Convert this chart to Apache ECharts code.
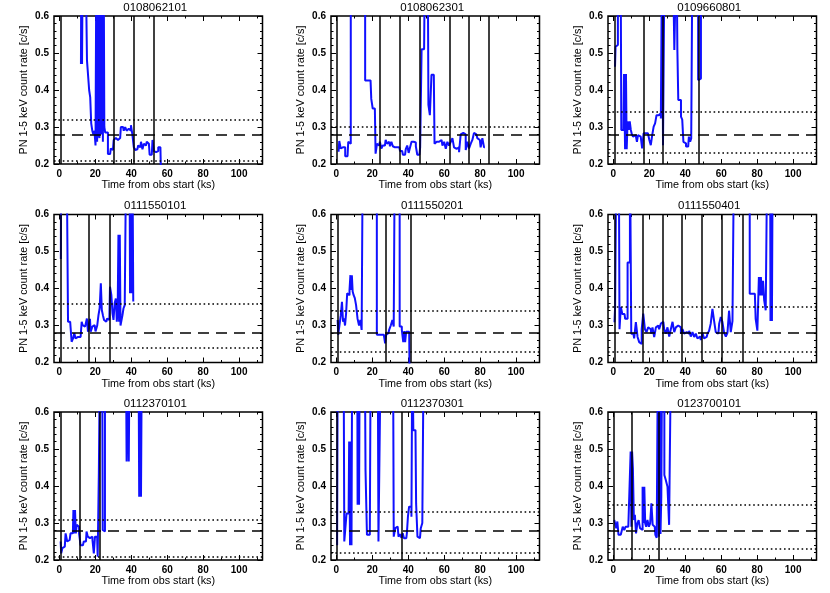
<!DOCTYPE html>
<html>
<head>
<meta charset="utf-8">
<script src="https://cdn.jsdelivr.net/npm/echarts@6/dist/echarts.min.js"></script>
<style>
html, body { margin: 0; background: #fff; }
#chart { width: 830px; height: 593px; }
</style>
</head>
<body>
<div id="chart"></div>
<script>
// observation ids, one panel each
const obsIds = ['0108062101', '0108062301', '0109660801',
  '0111550101', '0111550201', '0111550401',
  '0112370101', '0112370301', '0123700101'];

// light curves [time ks, rate c/s]; 0.8 = off the top of the plot
const lc1 = [[12.0,0.47],[12.4,0.8],[12.8,0.47],[13.2,0.8],[14.5,0.8],[16.2,0.48],[16.9,0.40],[17.4,0.38],[18.0,0.31],[18.6,0.29],
  [19.2,0.28],[19.8,0.29],[20.4,0.25],[20.8,0.8],[21.2,0.26],[21.6,0.8],[22.0,0.28],[22.6,0.27],[23.2,0.8],[23.6,0.28],
  [24.0,0.8],[24.4,0.26],[24.8,0.8],[25.2,0.30],[25.8,0.285],[26.6,0.285],[27.4,0.227],[28.2,0.227],[29.0,0.242],[29.8,0.238],
  [30.6,0.265],[31.4,0.27],[32.2,0.265],[33.0,0.268],[33.8,0.27],[34.6,0.30],[35.4,0.30],[36.2,0.29],[37.0,0.30],[37.8,0.29],
  [38.6,0.295],[39.4,0.29],[40.2,0.305],[41.0,0.28],[41.8,0.245],[42.6,0.238],[43.4,0.24],[44.2,0.25],[45.0,0.245],[45.8,0.26],
  [46.6,0.24],[47.4,0.255],[48.2,0.25],[49.0,0.26],[49.8,0.255],[50.6,0.225],[51.4,0.225],[52.2,0.265],[53.0,0.235],[53.8,0.232],
  [54.6,0.235],[55.4,0.245],[56.2,0.245],[57.0,0.15]];
const lc2 = [[1.2,0.233],[2.0,0.262],[2.8,0.242],[3.6,0.245],[4.4,0.245],[5.4,0.221],[6.2,0.221],[7.0,0.26],[7.6,0.255],[8.4,0.8],
  [13.0,0.8],[19.0,0.426],[19.8,0.376],[20.6,0.35],[21.4,0.35],[22.2,0.228],[23.0,0.255],[23.8,0.25],[24.6,0.26],[25.4,0.242],
  [26.2,0.25],[27.0,0.25],[27.8,0.265],[28.6,0.255],[29.4,0.26],[30.2,0.248],[31.0,0.26],[31.8,0.248],[32.6,0.245],[33.4,0.245],
  [34.2,0.245],[35.0,0.245],[35.8,0.235],[36.6,0.235],[37.4,0.225],[38.2,0.225],[39.0,0.24],[39.8,0.25],[40.6,0.23],[41.4,0.245],
  [42.2,0.26],[43.0,0.26],[43.8,0.258],[44.6,0.248],[45.4,0.225],[46.2,0.225],[47.0,0.245],[47.8,0.51],[48.8,0.51],[49.8,0.8],
  [50.8,0.8],[51.6,0.36],[52.4,0.332],[53.4,0.441],[54.2,0.441],[55.0,0.255],[55.8,0.26],[56.7,0.26],[57.6,0.26],[58.5,0.265],
  [59.5,0.25],[60.4,0.26],[61.3,0.241],[62.2,0.26],[63.2,0.25],[64.1,0.26],[65.0,0.27],[65.9,0.245],[66.9,0.241],[67.8,0.245],
  [68.7,0.232],[69.6,0.28],[70.6,0.284],[71.5,0.28],[72.4,0.238],[73.3,0.26],[74.3,0.242],[75.2,0.255],[76.1,0.265],[77.0,0.284],
  [77.9,0.28],[78.9,0.27],[79.8,0.265],[80.7,0.245],[81.7,0.27],[82.6,0.245]];
const lc3 = [[0.9,0.463],[1.5,0.517],[2.2,0.522],[2.8,0.8],[4.0,0.8],[4.8,0.292],[5.6,0.292],[6.2,0.443],[6.8,0.24],[7.2,0.443],
  [7.6,0.24],[8.2,0.315],[8.8,0.292],[9.4,0.315],[10.0,0.292],[10.6,0.28],[11.2,0.274],[12.0,0.278],[12.8,0.278],[13.4,0.26],
  [14.0,0.278],[14.8,0.274],[15.6,0.274],[16.4,0.242],[17.2,0.283],[18.0,0.283],[18.8,0.283],[19.6,0.278],[20.4,0.265],[21.2,0.251],
  [22.0,0.278],[22.8,0.301],[23.6,0.31],[24.4,0.332],[25.2,0.332],[26.0,0.337],[26.8,0.323],[27.4,0.8],[27.8,0.251],[28.2,0.251],
  [28.8,0.8],[33.0,0.8],[34.8,0.508],[35.4,0.8],[35.8,0.508],[36.4,0.373],[37.2,0.373],[38.0,0.328],[38.6,0.32],[39.3,0.26],
  [40.0,0.256],[40.8,0.247],[41.6,0.247],[42.4,0.274],[43.0,0.26],[43.6,0.269],[44.4,0.8],[46.5,0.8],[47.8,0.427],[48.4,0.431],
  [49.0,0.8]];
const lc4 = [[0.8,0.48],[1.2,0.8],[4.0,0.8],[5.6,0.31],[6.4,0.31],[7.2,0.256],[8.0,0.265],[8.6,0.279],[9.4,0.265],[10.4,0.269],
  [11.4,0.269],[12.2,0.269],[12.6,0.31],[13.2,0.301],[14.0,0.306],[14.6,0.297],[15.0,0.293],[15.6,0.319],[16.2,0.283],[16.8,0.283],
  [17.2,0.318],[17.6,0.283],[18.0,0.283],[18.7,0.297],[19.6,0.301],[20.6,0.284],[21.5,0.30],[22.0,0.328],[22.8,0.347],[23.3,0.414],
  [23.9,0.342],[24.5,0.328],[25.2,0.315],[26.1,0.31],[27.0,0.319],[27.8,0.315],[28.5,0.405],[29.3,0.383],[29.8,0.333],[30.4,0.315],
  [31.1,0.36],[31.7,0.373],[32.2,0.31],[32.7,0.355],[33.0,0.545],[33.4,0.31],[33.8,0.545],[34.2,0.30],[34.8,0.30],[35.4,0.328],
  [35.9,0.346],[36.8,0.355],[37.6,0.8],[39.0,0.8],[39.6,0.387],[40.0,0.8],[40.4,0.387],[40.8,0.8],[41.4,0.365]];
const lc5 = [[0.7,0.315],[1.3,0.275],[2.1,0.27],[2.8,0.328],[3.4,0.364],[4.0,0.31],[4.5,0.319],[5.1,0.30],[5.7,0.333],[6.3,0.387],
  [7.0,0.382],[7.6,0.396],[8.0,0.436],[8.4,0.396],[8.8,0.436],[9.3,0.392],[9.9,0.382],[10.6,0.374],[11.3,0.355],[12.2,0.319],
  [13.0,0.30],[13.7,0.315],[14.4,0.288],[15.0,0.8],[20.0,0.8],[25.0,0.275],[26.0,0.275],[26.8,0.275],[27.4,0.252],[28.0,0.275],
  [28.9,0.279],[29.8,0.288],[30.7,0.30],[31.6,0.315],[32.2,0.297],[32.8,0.8],[34.5,0.8],[35.9,0.297],[36.9,0.288],[37.5,0.255],
  [38.0,0.285],[38.5,0.255],[39.1,0.283],[39.9,0.283],[40.5,0.283],[41.0,0.15]];
const lc6 = [[0.6,0.309],[1.3,0.35],[2.1,0.8],[3.0,0.8],[3.8,0.29],[4.5,0.35],[5.4,0.331],[6.2,0.331],[6.9,0.318],[7.6,0.318],
  [8.2,0.47],[8.8,0.47],[9.6,0.8],[10.3,0.278],[11.1,0.278],[12.0,0.265],[13.0,0.309],[13.9,0.269],[14.8,0.255],[15.4,0.25],
  [16.1,0.29],[17.1,0.332],[18.0,0.29],[18.9,0.282],[19.8,0.295],[20.8,0.29],[21.3,0.278],[22.2,0.295],[23.2,0.269],[24.1,0.295],
  [25.0,0.30],[25.9,0.29],[26.9,0.305],[27.8,0.31],[28.7,0.29],[29.6,0.278],[30.6,0.295],[31.5,0.27],[32.4,0.29],[33.4,0.31],
  [34.3,0.282],[35.2,0.295],[36.1,0.30],[37.1,0.295],[38.0,0.278],[38.9,0.29],[39.8,0.278],[40.8,0.282],[41.7,0.278],[42.6,0.286],
  [43.5,0.27],[44.5,0.282],[45.4,0.269],[46.3,0.278],[47.2,0.265],[48.2,0.27],[49.1,0.261],[50.0,0.28],[50.9,0.265],[51.9,0.269],
  [52.8,0.278],[53.7,0.286],[54.6,0.305],[55.6,0.345],[56.5,0.312],[57.4,0.282],[58.4,0.278],[59.3,0.305],[60.2,0.323],[61.1,0.31],
  [62.1,0.28],[63.0,0.27],[63.9,0.28],[64.8,0.34],[65.8,0.282],[66.7,0.312],[67.6,0.8],[73.0,0.8],[78.7,0.386],[79.6,0.318],
  [80.6,0.286],[81.3,0.431],[81.8,0.381],[82.3,0.431],[83.0,0.381],[83.5,0.421],[84.3,0.368],[85.2,0.341],[86.1,0.8],[87.2,0.8],
  [87.6,0.312],[88.0,0.8],[88.4,0.312],[88.9,0.8]];
const lc7 = [[0.7,0.25],[1.3,0.218],[2.0,0.232],[3.0,0.236],[3.9,0.272],[4.8,0.25],[5.7,0.254],[6.7,0.272],[7.5,0.272],[8.1,0.335],
  [8.5,0.272],[8.9,0.335],[9.4,0.272],[9.9,0.295],[10.6,0.29],[11.3,0.272],[12.2,0.24],[13.1,0.24],[14.0,0.25],[14.8,0.25],
  [15.4,0.277],[16.2,0.263],[17.0,0.259],[18.0,0.263],[18.8,0.254],[19.5,0.218],[20.1,0.263],[21.0,0.263],[21.6,0.209],[22.3,0.434],
  [23.0,0.8],[23.8,0.8],[24.4,0.281],[25.0,0.277],[25.7,0.8],[37.0,0.8],[37.8,0.466],[38.4,0.8],[38.8,0.466],[39.4,0.8],
  [44.0,0.8],[44.8,0.371],[45.2,0.8],[45.6,0.371],[46.2,0.8]];
const lc8 = [[0.4,0.24],[1.1,0.8],[4.0,0.8],[4.8,0.25],[5.4,0.25],[5.9,0.326],[6.8,0.326],[7.4,0.52],[7.8,0.24],[8.2,0.52],
  [8.6,0.24],[9.0,0.8],[11.6,0.8],[12.0,0.349],[12.4,0.8],[12.8,0.349],[13.2,0.8],[15.8,0.8],[16.6,0.443],[17.4,0.268],
  [18.6,0.268],[19.6,0.8],[23.0,0.8],[23.8,0.25],[24.5,0.25],[25.0,0.8],[31.5,0.8],[32.3,0.263],[33.2,0.286],[34.1,0.29],
  [35.0,0.263],[35.8,0.27],[36.6,0.26],[37.2,0.272],[38.0,0.259],[38.9,0.259],[39.5,0.272],[40.1,0.317],[40.8,0.344],[41.5,0.344],
  [42.0,0.317],[42.5,0.8],[43.1,0.551],[44.0,0.551],[44.7,0.353],[45.5,0.263],[46.5,0.259],[47.4,0.286],[48.2,0.30],[49.0,0.8]];
const lc9 = [[0.5,0.308],[1.3,0.304],[1.9,0.286],[2.5,0.304],[3.2,0.268],[4.1,0.268],[4.8,0.268],[5.6,0.29],[6.5,0.281],[7.1,0.29],
  [7.9,0.29],[8.7,0.29],[9.4,0.29],[9.8,0.493],[10.2,0.29],[10.6,0.493],[11.1,0.448],[11.7,0.308],[12.2,0.322],[13.0,0.272],
  [13.7,0.299],[14.4,0.308],[15.2,0.286],[15.9,0.281],[16.6,0.398],[17.0,0.30],[17.4,0.398],[18.0,0.299],[18.5,0.29],[19.4,0.308],
  [20.1,0.29],[20.8,0.299],[21.5,0.353],[22.2,0.295],[23.0,0.29],[23.7,0.268],[24.5,0.26],[25.1,0.8],[25.5,0.263],[26.0,0.8],
  [26.4,0.27],[26.9,0.371],[27.4,0.8],[28.0,0.8],[28.7,0.43],[29.6,0.416],[30.6,0.398],[31.4,0.295],[31.8,0.29],[32.4,0.8]];
const lightCurves = [lc1, lc2, lc3, lc4, lc5, lc6, lc7, lc8, lc9];

// interval boundaries (ks) drawn as solid vertical lines
const gti = [
  [0.5, 30.5, 41.2, 52.3],
  [0.45, 24.1, 35.1, 46.1, 62.8, 73.8, 84.9],
  [0.6, 16.7, 27.6, 47.4],
  [0.55, 16.5, 28.1],
  [0.55, 27.6, 41.3],
  [0.55, 16.3, 27.4, 38.3, 49.3, 60.2, 71.9],
  [0.55, 11.5, 22.4],
  [0.4, 36.3],
  [0.4, 10.4, 25.4]
];
const meanRate = 0.28;
const upperCut = [0.321, 0.303, 0.340, 0.358, 0.342, 0.349, 0.314, 0.328, 0.350];
const lowerCut = [0.212, null, 0.226, 0.238, 0.229, 0.234, 0.211, 0.218, 0.233];

const majorX = [0, 20, 40, 60, 80, 100];
const minorX = [10, 30, 50, 70, 90, 110];

const colLeft = [54, 331, 608];
const rowTop = [16, 214.5, 412];
const plotW = 208.5, plotH = 148;
const font = 'Liberation Sans, Arial, sans-serif';
const black = '#000';

const grids = [], xAxes = [], yAxes = [], series = [], titles = [];
const labelStyle = { fontFamily: font, fontSize: 10, fontWeight: 'bold', color: black };
const nameStyle = { fontFamily: font, fontSize: 10.8, color: black };

obsIds.forEach((id, i) => {
  const left = colLeft[i % 3];
  const top = rowTop[Math.floor(i / 3)];
  grids.push({ left, top, width: plotW, height: plotH, show: true,
    borderColor: black, borderWidth: 1.5, backgroundColor: 'transparent' });
  titles.push({ text: id, left: left + plotW / 2 - 3, top: top - 14.5, padding: 0, textAlign: 'center',
    textStyle: { fontFamily: font, fontSize: 11.5, fontWeight: 'normal', color: black } });

  const xBase = { gridIndex: i, type: 'value', min: -3, max: 113,
    splitLine: { show: false }, axisLine: { show: false, onZero: false } };
  const tick = (vals, len) => ({ show: true, inside: true, length: len, customValues: vals,
    lineStyle: { color: black, width: 1 } });
  xAxes.push(Object.assign({}, xBase, { position: 'bottom',
    name: 'Time from obs start (ks)', nameLocation: 'middle', nameGap: 14, nameTextStyle: nameStyle,
    axisTick: tick(majorX, 5),
    axisLabel: Object.assign({ customValues: majorX, margin: 5 }, labelStyle) }));
  xAxes.push(Object.assign({}, xBase, { position: 'bottom', axisTick: tick(minorX, 2.5), axisLabel: { show: false } }));
  xAxes.push(Object.assign({}, xBase, { position: 'top', axisTick: tick(majorX, 5), axisLabel: { show: false } }));
  xAxes.push(Object.assign({}, xBase, { position: 'top', axisTick: tick(minorX, 2.5), axisLabel: { show: false } }));

  const yBase = { gridIndex: i, type: 'value', min: 0.2, max: 0.6, interval: 0.1,
    splitLine: { show: false }, axisLine: { show: false, onZero: false },
    axisTick: { inside: true, length: 5, lineStyle: { color: black, width: 1 } },
    minorTick: { show: true, splitNumber: 5, length: 2.5, lineStyle: { color: black, width: 1 } } };
  yAxes.push(Object.assign({}, yBase, { position: 'left',
    name: 'PN 1-5 keV count rate [c/s]', nameLocation: 'middle', nameGap: 24, nameTextStyle: nameStyle,
    axisLabel: Object.assign({ margin: 5, formatter: v => v.toFixed(1) }, labelStyle) }));
  yAxes.push(Object.assign({}, yBase, { position: 'right', axisLabel: { show: false } }));

  const marks = gti[i].map(t => ({ xAxis: t, lineStyle: { color: black, width: 1.5, type: 'solid' } }));
  marks.push({ yAxis: meanRate, lineStyle: { color: black, width: 1.5, type: [11, 7] } });
  [upperCut[i], lowerCut[i]].forEach(c => {
    if (c !== null) marks.push({ yAxis: c, lineStyle: { color: black, width: 1.6, type: [1.6, 2.8] } });
  });

  series.push({
    type: 'line', xAxisIndex: i * 4, yAxisIndex: i * 2,
    data: lightCurves[i], step: 'middle', symbol: 'none', showSymbol: false, clip: true,
    lineStyle: { color: '#1010ff', width: 2 },
    emphasis: { disabled: true }, silent: true,
    markLine: { silent: true, symbol: ['none', 'none'], label: { show: false },
      emphasis: { disabled: true }, animation: false, data: marks }
  });
});

const chart = echarts.init(document.getElementById('chart'), null, { renderer: 'canvas' });
chart.setOption({
  backgroundColor: '#fff',
  animation: false,
  title: titles,
  grid: grids,
  xAxis: xAxes,
  yAxis: yAxes,
  series: series
});
</script>
</body>
</html>
